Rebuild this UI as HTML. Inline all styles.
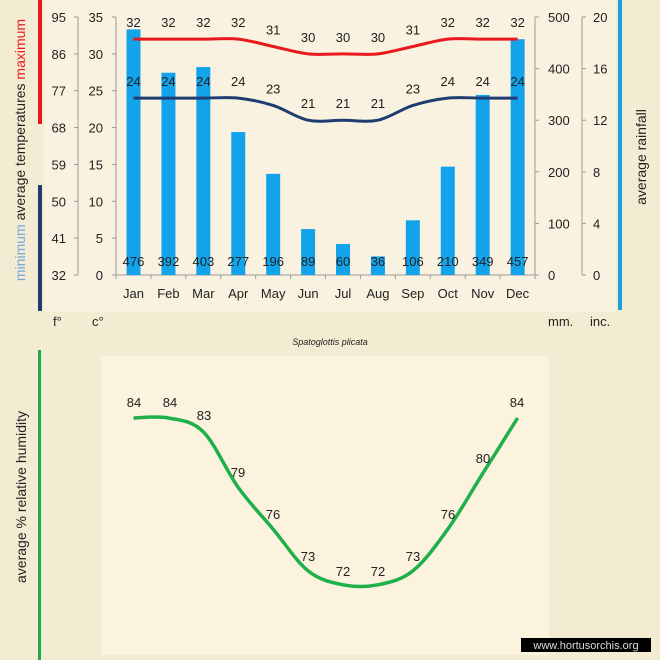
<!DOCTYPE html>
<html><head><meta charset="utf-8"><style>
html,body{margin:0;padding:0;width:660px;height:660px;overflow:hidden;background:#f4ecd2;}
svg{display:block;font-family:"Liberation Sans",Arial,sans-serif;}
</style></head><body>
<svg id="s" width="660" height="660" viewBox="0 0 660 660" xmlns="http://www.w3.org/2000/svg">
<rect x="0" y="0" width="660" height="660" fill="#f4ecd2"/>
<rect x="44" y="0" width="572" height="312" fill="#f9f2e0"/>
<rect x="101" y="356" width="448" height="299" fill="#fbf3de"/>
<rect x="38" y="0" width="4" height="124" fill="#e8191c"/>
<rect x="38" y="185" width="4" height="126" fill="#1f3d73"/>
<rect x="618" y="0" width="4" height="310" fill="#1aa0e0"/>
<rect x="38" y="350" width="3" height="310" fill="#1fa84a"/>
<text transform="translate(25,150) rotate(-90)" text-anchor="middle" font-size="14" fill="#222"><tspan fill="#6fa8dc">minimum</tspan>  average  temperatures  <tspan fill="#e8191c">maximum</tspan></text>
<text transform="translate(646,157) rotate(-90)" text-anchor="middle" font-size="14" fill="#222">average rainfall</text>
<text transform="translate(26,497) rotate(-90)" text-anchor="middle" font-size="14" fill="#222">average %  relative humidity</text>
<text x="53" y="326" font-size="13" fill="#222">f°</text>
<text x="92" y="326" font-size="13" fill="#222">c°</text>
<text x="548" y="326" font-size="13" fill="#222">mm.</text>
<text x="590" y="326" font-size="13" fill="#222">inc.</text>
<text x="330" y="345" text-anchor="middle" font-size="9" font-style="italic" fill="#222">Spatoglottis plicata</text>
<rect x="521" y="638" width="130" height="14" fill="#000"/>
<text x="586" y="649" text-anchor="middle" font-size="11" fill="#ddd">www.hortusorchis.org</text>
<g id="g"></g>
</svg>
<script>
var g=document.getElementById('g'),h='';
var ax='#9a9a9a';
function y0(c){return 275-c*258/35;}
// axes
h+='<line x1="78" y1="17" x2="78" y2="275" stroke="'+ax+'"/>';
h+='<line x1="116" y1="17" x2="116" y2="275" stroke="'+ax+'"/>';
h+='<line x1="116" y1="275" x2="535" y2="275" stroke="'+ax+'"/>';
h+='<line x1="535" y1="17" x2="535" y2="275" stroke="'+ax+'"/>';
h+='<line x1="582" y1="17" x2="582" y2="275" stroke="'+ax+'"/>';
var fl=[32,41,50,59,68,77,86,95];
for(var i=0;i<8;i++){var y=y0(i*5);
h+='<line x1="74" y1="'+y+'" x2="78" y2="'+y+'" stroke="'+ax+'"/><line x1="112" y1="'+y+'" x2="116" y2="'+y+'" stroke="'+ax+'"/>';
h+='<text x="66" y="'+(y+5)+'" text-anchor="end" font-size="13" fill="#222">'+fl[i]+'</text>';
h+='<text x="103" y="'+(y+5)+'" text-anchor="end" font-size="13" fill="#222">'+(i*5)+'</text>';}
for(var i=0;i<=5;i++){var y=275-i*51.6;
h+='<line x1="535" y1="'+y+'" x2="539" y2="'+y+'" stroke="'+ax+'"/><line x1="582" y1="'+y+'" x2="586" y2="'+y+'" stroke="'+ax+'"/>';
h+='<text x="548" y="'+(y+5)+'" font-size="13" fill="#222">'+(i*100)+'</text>';
h+='<text x="593" y="'+(y+5)+'" font-size="13" fill="#222">'+(i*4)+'</text>';}
for(var i=0;i<=12;i++){var x=116+i*34.92;h+='<line x1="'+x+'" y1="275" x2="'+x+'" y2="279" stroke="'+ax+'"/>';}
var mo=['Jan','Feb','Mar','Apr','May','Jun','Jul','Aug','Sep','Oct','Nov','Dec'];
var mx=[32,32,32,32,31,30,30,30,31,32,32,32],mn=[24,24,24,24,23,21,21,21,23,24,24,24];
var rn=[476,392,403,277,196,89,60,36,106,210,349,457];
var hu=[84,84,83,79,76,73,72,72,73,76,80,84];
function cx(i){return 133.5+i*34.92;}
for(var i=0;i<12;i++){var x=cx(i),t=275-rn[i]*0.516;
h+='<rect x="'+(x-7)+'" y="'+t+'" width="14" height="'+(275-t)+'" fill="#13a3ea"/>';
h+='<text x="'+x+'" y="298" text-anchor="middle" font-size="13" fill="#222">'+mo[i]+'</text>';
h+='<text x="'+x+'" y="266" text-anchor="middle" font-size="13" fill="#222">'+rn[i]+'</text>';}
function smooth(p){var d='M'+p[0][0]+','+p[0][1];
for(var i=0;i<p.length-1;i++){var a=p[Math.max(i-1,0)],b=p[i],c=p[i+1],e=p[Math.min(i+2,p.length-1)];
d+=' C'+(b[0]+(c[0]-a[0])/6)+','+(b[1]+(c[1]-a[1])/6)+' '+(c[0]-(e[0]-b[0])/6)+','+(c[1]-(e[1]-b[1])/6)+' '+c[0]+','+c[1];}
return d;}
var pm=[],pn=[],ph=[];
for(var i=0;i<12;i++){pm.push([cx(i),y0(mx[i])]);pn.push([cx(i),y0(mn[i])]);ph.push([cx(i),418+(84-hu[i])*13.9]);}
h+='<path d="'+smooth(pm)+'" fill="none" stroke="#e8191c" stroke-width="3"/>';
h+='<path d="'+smooth(pn)+'" fill="none" stroke="#1f3d73" stroke-width="3"/>';
h+='<path d="'+smooth(ph)+'" fill="none" stroke="#1fb04a" stroke-width="3.5"/>';
for(var i=0;i<12;i++){var x=cx(i);
h+='<text x="'+x+'" y="'+(y0(mx[i])-12)+'" text-anchor="middle" font-size="13" fill="#222">'+mx[i]+'</text>';
h+='<text x="'+x+'" y="'+(y0(mn[i])-12)+'" text-anchor="middle" font-size="13" fill="#222">'+mn[i]+'</text>';}
var hl=[[134,407],[170,407],[204,420],[238,477],[273,519],[308,561],[343,576],[378,576],[413,561],[448,519],[483,463],[517,407]];
for(var i=0;i<12;i++){h+='<text x="'+hl[i][0]+'" y="'+hl[i][1]+'" text-anchor="middle" font-size="13" fill="#222">'+hu[i]+'</text>';}
g.innerHTML=h;
</script>
</body></html>
